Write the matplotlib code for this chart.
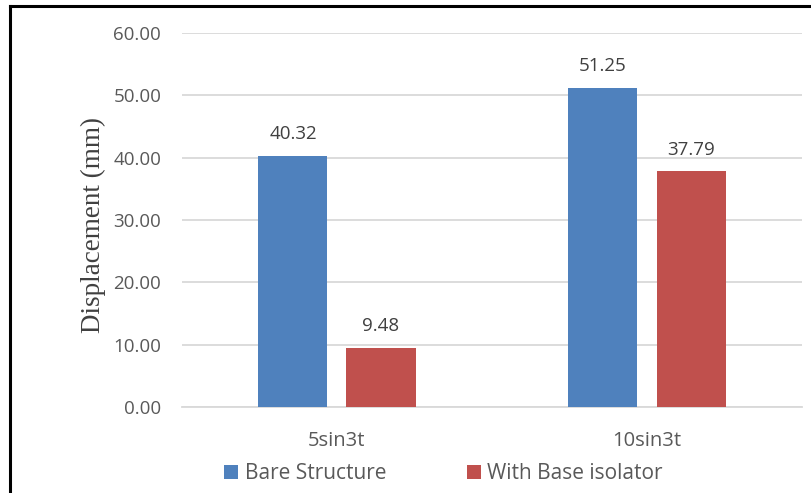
import numpy as np
import matplotlib.pyplot as plt
from matplotlib.lines import Line2D

plt.rcParams['font.family'] = ['Open Sans', 'DejaVu Sans']

cases = ['5sin3t', '10sin3t']
bare = [40.32, 51.25]
isolated = [9.48, 37.79]
series_names = ['Bare Structure', 'With Base isolator']

fig = plt.figure(figsize=(8.12, 4.93), dpi=100)
ax = fig.add_axes([0.2241, 0.1744, 0.7636, 0.7586])

x = np.arange(len(cases))
w = 0.2226
off = 0.142
b1 = ax.bar(x - off, bare, w, color='#4F81BD', label=series_names[0], zorder=3)
b2 = ax.bar(x + off, isolated, w, color='#C0504D', label=series_names[1], zorder=3)

for bars, vals in [(b1, bare), (b2, isolated)]:
    for rect, v in zip(bars, vals):
        ax.text(rect.get_x() + rect.get_width() / 2, v + 2.0, f'{v:.2f}',
                ha='center', va='bottom', fontsize=13.5, color='#404040')

ax.set_xlim(-0.5, 1.5)
ax.set_ylim(0, 60)
ax.set_yticks(np.arange(0, 61, 10))
ax.set_yticklabels([f'{t:.2f}' for t in np.arange(0, 61, 10)])
ax.set_xticks(x)
ax.set_xticklabels(cases)
ax.tick_params(axis='y', length=0, labelsize=13.5, labelcolor='#595959', pad=15)
ax.tick_params(axis='x', length=0, labelsize=14.5, labelcolor='#595959', pad=17)
ax.grid(axis='y', color='#d9d9d9', linewidth=1.3, zorder=0)
for s in ['top', 'right', 'left']:
    ax.spines[s].set_visible(False)
ax.spines['bottom'].set_color('#d9d9d9')
ax.spines['bottom'].set_linewidth(1.3)

ax.set_ylabel('Displacement (mm)', family='Liberation Serif', fontsize=19.5,
              color='#404040', labelpad=5.5)
ax.yaxis.label.set_y(0.486)

ax.legend(loc='upper center', bbox_to_anchor=(0.422, -0.1), ncol=2, frameon=False,
          fontsize=15, labelcolor='#595959', handlelength=0.67, handleheight=0.67,
          handletextpad=0.3, columnspacing=3.9)

# frame lines on top and left edges
fig.add_artist(Line2D([10 / 812, 1], [1 - 6 / 493, 1 - 6 / 493], color='black',
                      linewidth=2.2, transform=fig.transFigure))
fig.add_artist(Line2D([10 / 812, 10 / 812], [0, 1 - 6 / 493], color='black',
                      linewidth=2.2, transform=fig.transFigure))

plt.savefig('out.png', dpi=100)
